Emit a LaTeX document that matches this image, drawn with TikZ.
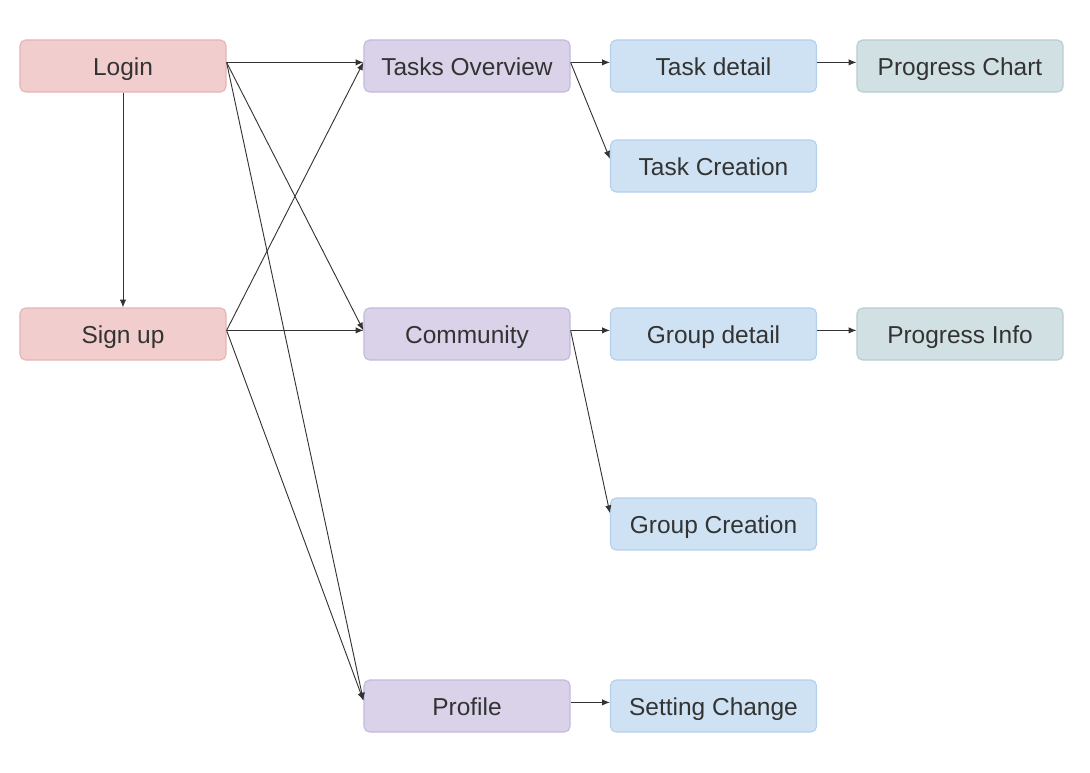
\documentclass[tikz,border=0pt]{standalone}
\usepackage{fontspec}
\setmainfont{Liberation Sans}
\usepackage{xcolor}
\usetikzlibrary{arrows.meta}
\definecolor{redfill}{HTML}{F2CDCD}
\definecolor{redline}{HTML}{E8B4B4}
\definecolor{purplefill}{HTML}{D9D2E9}
\definecolor{purpleline}{HTML}{C4B9DE}
\definecolor{bluefill}{HTML}{CFE2F3}
\definecolor{blueline}{HTML}{B4D0EE}
\definecolor{tealfill}{HTML}{D0E0E3}
\definecolor{tealline}{HTML}{B6CDD1}
\definecolor{inkgray}{HTML}{333333}
\tikzset{
    screen/.style={rectangle, rounded corners=4pt, line width=0.8pt, minimum width=5.15cm, minimum height=1.3cm, inner sep=0pt, text height=14pt, text depth=0pt, text=inkgray, font=\fontsize{17.4}{20}\selectfont},
    entry/.style={screen, fill=redfill, draw=redline},
    hub/.style={screen, fill=purplefill, draw=purpleline},
    page/.style={screen, fill=bluefill, draw=blueline},
    stats/.style={screen, fill=tealfill, draw=tealline},
    link/.style={-{Latex[length=5.5pt,width=4.5pt]}, draw=inkgray, line width=0.65pt}
}
\begin{document}
\begin{tikzpicture}[x=0.025cm, y=-0.025cm]
    \useasboundingbox (0,0) rectangle (1090,772);

    % entry screens
    \node[entry] (login) at (123,66) {Login};
    \node[entry] (signup) at (123,334) {Sign up};

    % main sections
    \node[hub] (tasks) at (467,66) {Tasks Overview};
    \node[hub] (community) at (467,334) {Community};
    \node[hub] (profile) at (467,706) {Profile};

    % sub pages
    \node[page] (taskdetail) at (713.5,66) {Task detail};
    \node[page] (taskcreate) at (713.5,166) {Task Creation};
    \node[page] (groupdetail) at (713.5,334) {Group detail};
    \node[page] (groupcreate) at (713.5,524) {Group Creation};
    \node[page] (settings) at (713.5,706) {Setting Change};
    \node[stats] (chart) at (960,66) {Progress Chart};
    \node[stats] (info) at (960,334) {Progress Info};

    % connectors
    \draw[link] (login) -- (signup);
    \draw[link] (login.2) -- (tasks.178);
    \draw[link] (login.2) -- (community.178);
    \draw[link] (login.2) -- (profile.177);
    \draw[link] (signup.2) -- (tasks.178);
    \draw[link] (signup.2) -- (community.178);
    \draw[link] (signup.2) -- (profile.177);
    \draw[link] (tasks.2) -- (taskdetail.178);
    \draw[link] (tasks.2) -- (taskcreate.176);
    \draw[link] (taskdetail.2) -- (chart.178);
    \draw[link] (community.2) -- (groupdetail.178);
    \draw[link] (community.2) -- (groupcreate.174);
    \draw[link] (groupdetail.2) -- (info.178);
    \draw[link] (profile.2) -- (settings.178);
\end{tikzpicture}
\end{document}
